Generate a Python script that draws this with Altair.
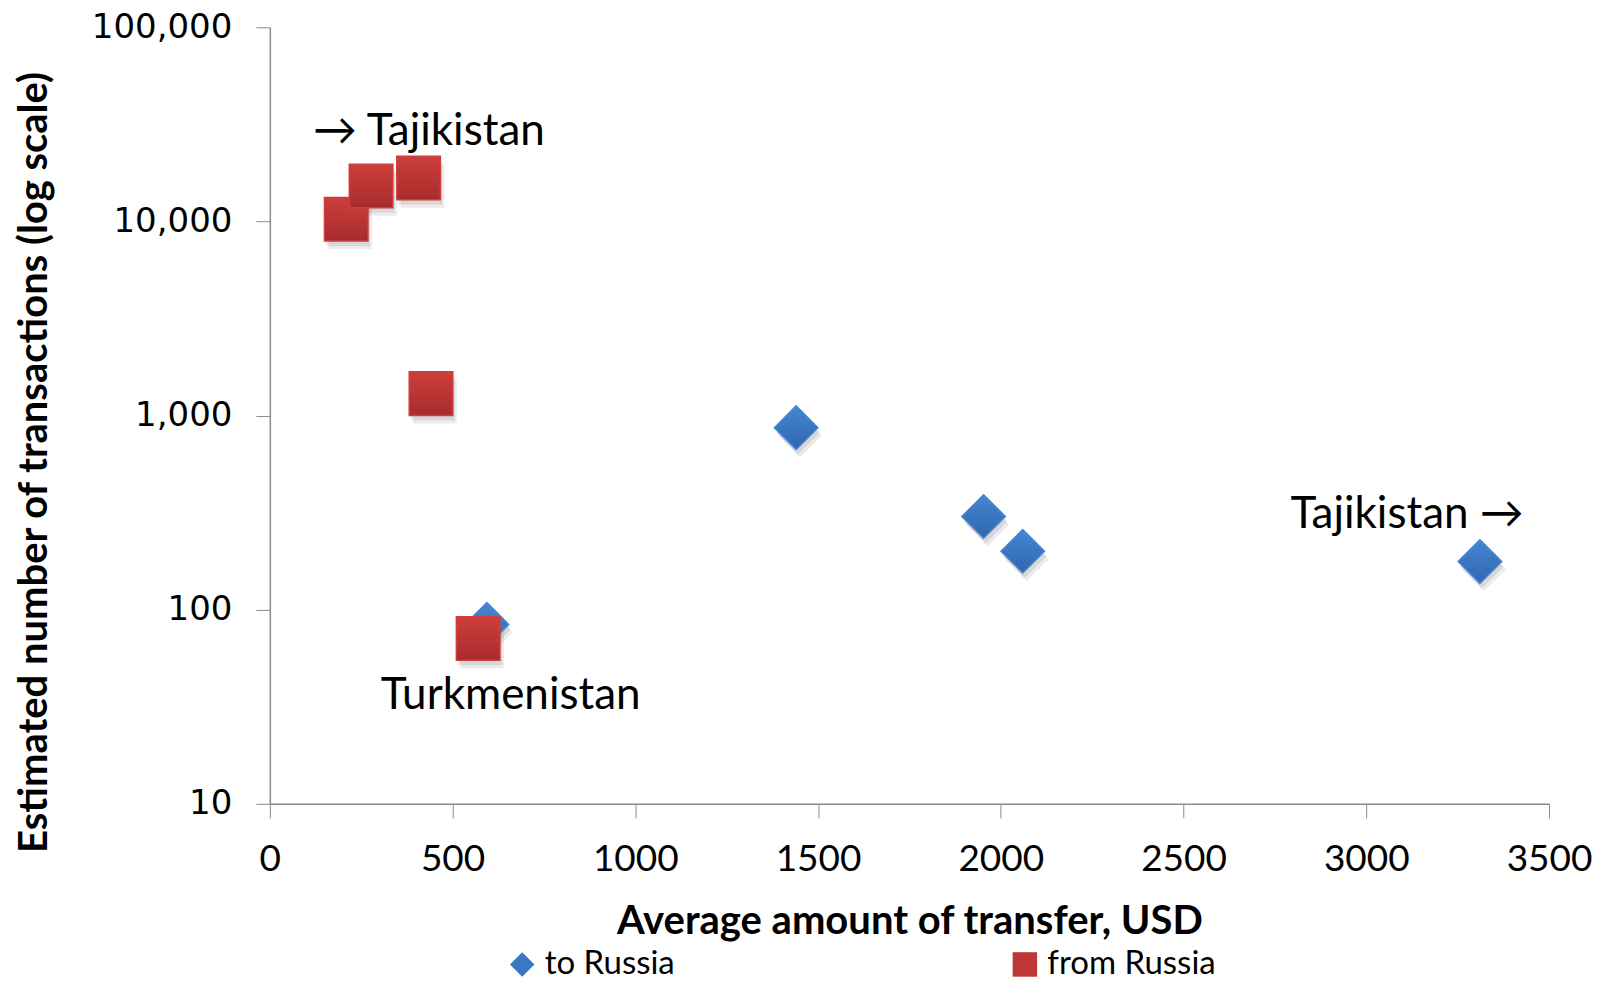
import altair as alt
import pandas as pd

# Data
to_x = [594, 1440, 1953, 2060, 3311]
to_y = [84, 866, 302, 200, 177]
from_x = [209, 277, 407, 441, 570]
from_y = [10270, 15220, 16740, 1297, 71]
series_names = ["to Russia", "from Russia"]
series_colors = ["#3A78C4", "#BE3635"]
series_top = ["#4686D2", "#CD3E3D"]
series_bottom = ["#2F66AE", "#A82C2C"]
series_shapes = ["diamond", "square"]

x_ticks = [0, 500, 1000, 1500, 2000, 2500, 3000, 3500]
y_ticks = [10, 100, 1000, 10000, 100000]

ann_text = ["\u2192 Tajikistan", "Tajikistan \u2192", "Turkmenistan"]
ann_x = [118, 3431, 659]
ann_y = [28900, 307, 36]
ann_align = ["left", "right", "center"]

rows = []
for x, y in zip(to_x, to_y):
    rows.append({"amount": x, "count": y, "series": series_names[0]})
for x, y in zip(from_x, from_y):
    rows.append({"amount": x, "count": y, "series": series_names[1]})
df = pd.DataFrame(rows)
df["order"] = range(len(df))

ann = pd.DataFrame({"text": ann_text, "amount": ann_x, "count": ann_y, "align": ann_align})

xscale = alt.Scale(domain=[0, 3500], nice=False, zero=False)
yscale = alt.Scale(type="log", domain=[10, 100000], nice=False)

x_enc = alt.X(
    "amount:Q",
    scale=xscale,
    axis=alt.Axis(
        title="Average amount of transfer, USD",
        values=x_ticks,
        format="d",
        grid=False,
        domainColor="#8C8C8C",
        domainWidth=1.5,
        tickColor="#8C8C8C",
        tickSize=14,
        labelFont="Lato",
        labelFontSize=37,
        labelColor="#000000",
        labelBaseline="middle",
        labelPadding=42,
        labelFlush=False,
        titleFont="Lato",
        titleFontSize=40,
        titleFontWeight="bold",
        titleColor="#000000",
        titleBaseline="middle",
        titleY=118,
    ),
)
y_enc = alt.Y(
    "count:Q",
    scale=yscale,
    axis=alt.Axis(
        title="Estimated number of transactions (log scale)",
        values=y_ticks,
        format=",",
        grid=False,
        domainColor="#8C8C8C",
        domainWidth=1.5,
        tickColor="#8C8C8C",
        tickSize=14,
        labelFont="DejaVu Sans",
        labelFontSize=34,
        labelColor="#000000",
        labelPadding=24,
        labelFlush=False,
        titleFont="Lato",
        titleFontSize=40,
        titleFontWeight="bold",
        titleColor="#000000",
        titleAngle=270,
        titleAlign="center",
        titleBaseline="middle",
        titleX=-235,
        titleY=435,
    ),
)

POINT_SIZE = 1900

# soft drop shadows, one layer per series with a fixed shape
shadow_layers = []
for name, shp in zip(series_names, series_shapes):
    for dx, dy, op in [(2, 5, 0.12), (4, 8, 0.1)]:
        shadow_layers.append(
            alt.Chart(df)
            .transform_filter(alt.datum.series == name)
            .mark_point(
                filled=True, opacity=op, color="#444444", xOffset=dx, yOffset=dy,
                size=POINT_SIZE, shape=shp, strokeWidth=0,
            )
            .encode(x=x_enc, y=y_enc)
        )

legend_cfg = alt.Legend(
    title=None,
    orient="none",
    direction="horizontal",
    legendX=236,
    legendY=921,
    padding=0,
    symbolSize=600,
    symbolStrokeWidth=0,
    labelFont="Lato",
    labelFontSize=33,
    labelColor="#000000",
    labelLimit=400,
    columnPadding=333,
    labelOffset=6,
)

points = alt.Chart(df).mark_point(
    filled=True, opacity=1, size=POINT_SIZE, strokeWidth=0
).encode(
    x=x_enc,
    y=y_enc,
    color=alt.Color(
        "series:N",
        scale=alt.Scale(domain=series_names, range=series_colors),
        legend=legend_cfg,
    ),
    shape=alt.Shape(
        "series:N",
        scale=alt.Scale(domain=series_names, range=series_shapes),
        legend=legend_cfg,
    ),
    order="order:Q",
)

# gradient face of each marker (lighter top, darker bottom), drawn per series
grad_layers = []
for name, shp, top, bot in zip(series_names, series_shapes, series_top, series_bottom):
    grad = alt.LinearGradient(
        gradient="linear",
        stops=[alt.GradientStop(color=top, offset=0), alt.GradientStop(color=bot, offset=1)],
        x1=0, x2=0, y1=0, y2=1,
    )
    grad_layers.append(
        alt.Chart(df)
        .transform_filter(alt.datum.series == name)
        .mark_point(filled=True, opacity=1, size=POINT_SIZE, shape=shp, fill=grad,
                    stroke=top, strokeWidth=1.5)
        .encode(x=x_enc, y=y_enc, order="order:Q")
    )

text_layers = []
for a in ["left", "right", "center"]:
    text_layers.append(
        alt.Chart(ann)
        .transform_filter(alt.datum.align == a)
        .mark_text(font="Lato", fontSize=44, color="#000000", baseline="middle", align=a)
        .encode(
            x=alt.X("amount:Q", scale=xscale),
            y=alt.Y("count:Q", scale=yscale),
            text="text:N",
        )
    )

chart = (
    alt.layer(*shadow_layers, points, *grad_layers, *text_layers)
    .properties(
        width=1280,
        height=777,
        autosize=alt.AutoSizeParams(type="none"),
        padding={"left": 262, "top": 19, "right": 50, "bottom": 178},
        background="#FFFFFF",
    )
    .configure_view(stroke=None)
)

chart.save("out.html", embed_options={"renderer": "svg", "actions": False})
